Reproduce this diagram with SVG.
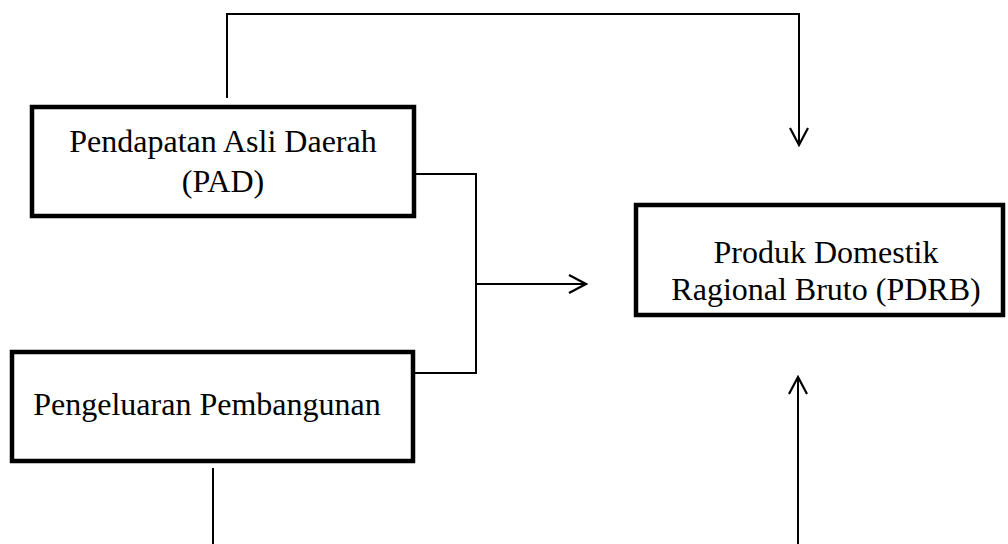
<svg xmlns="http://www.w3.org/2000/svg" width="1008" height="544" viewBox="0 0 1008 544">
<style>
.box{fill:#fff;stroke:#000;stroke-width:4.5}
.lbl{font-family:"Liberation Serif","Times New Roman",serif;font-size:32px;fill:#000;text-anchor:middle}
.con{fill:none;stroke:#000;stroke-width:2}
</style>
<defs>
<marker id="arr" viewBox="0 0 20 20" refX="18" refY="10" markerWidth="20" markerHeight="20" markerUnits="userSpaceOnUse" orient="auto">
<path d="M1,1 L18,10 L1,19" fill="none" stroke="#000" stroke-width="2.2"/>
</marker>
</defs>
<rect width="1008" height="544" fill="#fff"/>
<g id="connectors">
<path class="con" d="M227,98 V14 H799 V145" marker-end="url(#arr)"/>
<path class="con" d="M416,174 H476 V373 H415"/>
<path class="con" d="M476,284 H586" marker-end="url(#arr)"/>
<path class="con" d="M213,468 V544"/>
<path class="con" d="M798,544 V377" marker-end="url(#arr)"/>
</g>
<g id="node-pad">
<rect class="box" x="32" y="107" width="382" height="109"/>
<text class="lbl" x="223" y="152">Pendapatan Asli Daerah</text>
<text class="lbl" x="223" y="192">(PAD)</text>
</g>
<g id="node-pengeluaran">
<rect class="box" x="12" y="352" width="401" height="109"/>
<text class="lbl" x="207" y="415">Pengeluaran Pembangunan</text>
</g>
<g id="node-pdrb">
<rect class="box" x="636" y="205" width="367" height="110"/>
<text class="lbl" x="826" y="263">Produk Domestik</text>
<text class="lbl" x="826" y="300">Ragional Bruto (PDRB)</text>
</g>
</svg>
